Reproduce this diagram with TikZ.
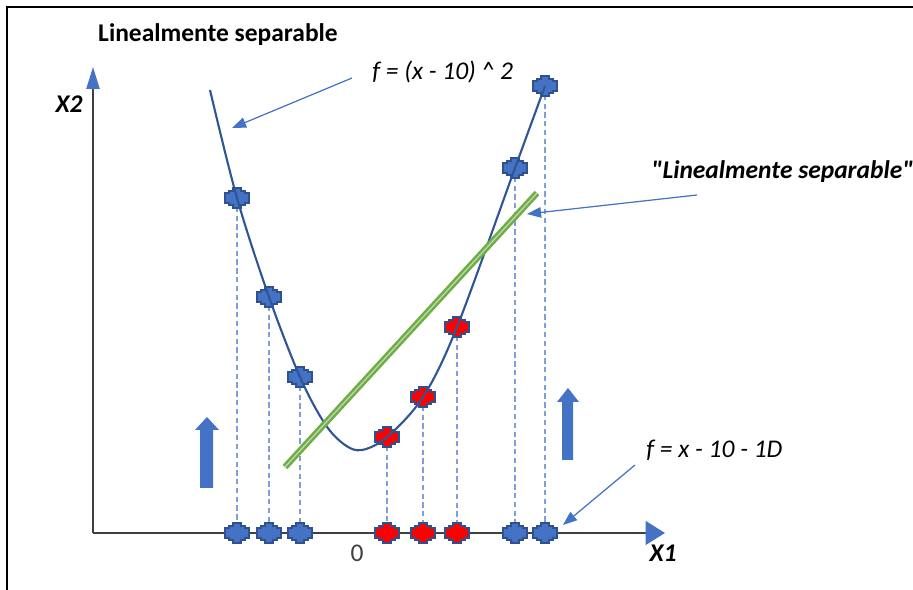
\documentclass[tikz,border=0pt]{standalone}
\usepackage{fontspec}
\setmainfont{Carlito}
\usepackage{tikz}
\usetikzlibrary{arrows.meta, positioning, calc}
\definecolor{ptblue}{HTML}{4472C4}
\definecolor{ptedge}{HTML}{2F528F}
\definecolor{curveblue}{HTML}{2F5597}
\definecolor{dashblue}{HTML}{7E9FDA}
\definecolor{sepgreen}{HTML}{70AD47}
\definecolor{axisgray}{HTML}{404040}

\begin{document}
\begin{tikzpicture}[x=0.02cm, y=-0.02cm,
  txt/.style={font=\fontsize{14.5}{17}\selectfont, inner sep=0pt},
  note/.style={-{Triangle[length=8pt, width=6pt]}, ptblue, line width=0.7pt},
  drop/.style={dashblue, dashed, dash pattern=on 3pt off 2pt, line width=0.6pt},
  pluspt/.pic={\filldraw[fill=#1, draw=ptedge, line width=0.8pt]
    (-4,-10) -- (4,-10) -- (4,-7) -- (8,-7) -- (8,-5) -- (12,-5) -- (12,5) -- (8,5)
    -- (8,7) -- (4,7) -- (4,10) -- (-4,10) -- (-4,7) -- (-8,7) -- (-8,5) -- (-12,5)
    -- (-12,-5) -- (-8,-5) -- (-8,-7) -- (-4,-7) -- cycle;}
]
\useasboundingbox (0,0) rectangle (913,590);

% frame
\draw[line width=1.5pt] (7,590) -- (7,7) -- (913,7);

% axes
\coordinate (o) at (93,533);
\coordinate (xend) at (665,533);
\coordinate (yend) at (93,67);
\draw[axisgray, line width=1pt, -{Triangle[length=11pt, width=13.5pt, color=ptblue]}] (o) -- (xend);
\draw[axisgray, line width=1pt, -{Triangle[length=12.5pt, width=7.5pt, color=ptblue]}] (o) -- (yend);
\node[txt, font=\fontsize{14.5}{17}\selectfont\bfseries\itshape] (xlab) at (663,553) {X1};
\node[txt, font=\fontsize{14.5}{17}\selectfont\bfseries\itshape] (ylab) at (69,104) {X2};
\node[txt, text=axisgray] (zero) at (357,553) {0};

% points on the curve and their projections
\foreach \n/\x/\y in {1/237/198, 2/269/297, 3/300/377, 4/387/437, 5/423/397, 6/457/327, 7/515/168, 8/545/86}{
  \coordinate (q\n) at (\x,\y);
  \coordinate (b\n) at (\x,533);
  \draw[drop] (q\n) -- (b\n);
}

% markers
\foreach \n/\c in {1/ptblue, 2/ptblue, 3/ptblue, 4/red, 5/red, 6/red, 7/ptblue, 8/ptblue}{
  \pic at (b\n) {pluspt=\c};
  \pic at (q\n) {pluspt=\c};
}

% f = (x-10)^2
\coordinate (cstart) at (210,90);
\draw[curveblue, line width=1.2pt] plot[smooth, tension=0.55] coordinates
  {(cstart) (q1) (q2) (q3) (325,424) (345,445) (362,450) (q4) (q5) (q6) (q7) (q8)};

% separating line
\coordinate (g1) at (285,467);
\coordinate (g2) at (537,193);
\draw[sepgreen, line width=3.6pt] (g1) -- (g2);
\draw[sepgreen!45!white, line width=0.7pt] (g1) -- (g2);

% block arrows
\fill[ptblue] (200,488) -- (200,430) -- (195,430) -- (207,417) -- (219,430) -- (213,430) -- (213,488) -- cycle;
\fill[ptblue] (562,460) -- (562,402) -- (557,402) -- (568,388) -- (579,402) -- (573,402) -- (573,460) -- cycle;

% labels
\node[txt, font=\fontsize{14.5}{17}\selectfont\bfseries] (title) at (218,35) {Linealmente separable};
\node[txt, font=\fontsize{14.5}{17}\selectfont\itshape, anchor=west] (fsq) at (372,72) {f = (x - 10) \textasciicircum\ 2};
\node[txt, font=\fontsize{14.5}{17}\selectfont\bfseries\itshape, anchor=west] (sepq) at (651,172) {\textquotedbl Linealmente separable\textquotedbl};
\node[txt, font=\fontsize{14.5}{17}\selectfont\itshape, anchor=west] (lin) at (646,450) {f = x - 10 - 1D};

% pointers
\coordinate (tipa) at (232,128);
\coordinate (tipb) at (527,214);
\coordinate (tipc) at (563,525);
\draw[note] ($(fsq.west)+(-20,6)$) -- (tipa);
\draw[note] ($(sepq.west)+(46,23)$) -- (tipb);
\draw[note] ($(lin.west)+(-11,15)$) -- (tipc);
\end{tikzpicture}
\end{document}
